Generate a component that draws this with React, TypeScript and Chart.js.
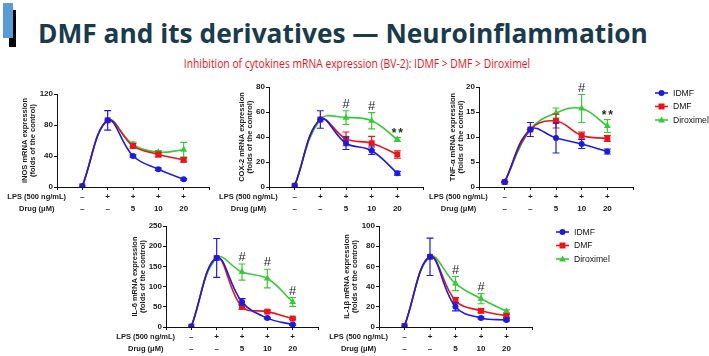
import React, { useEffect, useRef } from 'react';
import { Chart, registerables } from 'chart.js';

Chart.register(...registerables);

// ---------- shared categories / labels ----------
const categoryIndex = [0, 1, 2, 3, 4];
const lpsLabels = ['–', '+', '+', '+', '+'];
const drugLabels = ['–', '–', '5', '10', '20'];
const rowHeaders = ['LPS (500 ng/mL)', 'Drug (μM)'];
const seriesNames = ['IDMF', 'DMF', 'Diroximel'];
const seriesColors = ['#1c1ce0', '#e8161c', '#38c938'];
const seriesMarkers = ['circle', 'rect', 'triangle'];

// ---------- iNOS ----------
const inosIdmf = [1, 86, 40, 23, 10];
const inosIdmfErr = [0.5, 12.5, 1.5, 1.5, 1];
const inosDmf = [1, 86, 53, 42, 35];
const inosDmfErr = [0, 0, 3, 3, 2.5];
const inosDirox = [1, 86, 55, 45, 48];
const inosDiroxErr = [0, 0, 3, 2, 9.5];
const inosMarks: string[] = ['', '', '', '', ''];

// ---------- COX-2 ----------
const coxIdmf = [1, 54, 35, 29, 11];
const coxIdmfErr = [0.5, 7, 5, 3, 1.5];
const coxDmf = [1, 54, 38.5, 35, 26];
const coxDmfErr = [0, 0, 5.5, 5.5, 3];
const coxDirox = [1, 54, 55.5, 53, 38];
const coxDiroxErr = [0, 0, 5.5, 6.5, 1.5];
const coxMarks = ['', '', '#', '#', '**'];

// ---------- TNF-α ----------
const tnfIdmf = [1, 11.5, 9.8, 8.6, 7.1];
const tnfIdmfErr = [0.1, 1.4, 3, 0.9, 0.5];
const tnfDmf = [1, 11.5, 13.2, 10.3, 9.7];
const tnfDmfErr = [0, 0, 1.4, 0.7, 0.6];
const tnfDirox = [1, 11.5, 14.8, 15.7, 12.2];
const tnfDiroxErr = [0, 0, 1, 2.8, 1.3];
const tnfMarks = ['', '', '', '#', '**'];

// ---------- IL-6 ----------
const il6Idmf = [1, 171, 62, 22, 6];
const il6IdmfErr = [0.5, 48, 8, 2, 2];
const il6Dmf = [1, 171, 50, 38, 21];
const il6DmfErr = [0, 0, 6, 3, 2];
const il6Dirox = [1, 171, 136, 120, 62];
const il6DiroxErr = [0, 0, 20, 23, 11];
const il6Marks = ['', '', '#', '#', '#'];

// ---------- IL-1β ----------
const il1bIdmf = [1, 69.5, 20, 9, 7];
const il1bIdmfErr = [0.5, 18.5, 4, 1, 1];
const il1bDmf = [1, 69.5, 26, 16, 11];
const il1bDmfErr = [0, 0, 3, 2, 1.5];
const il1bDirox = [1, 69.5, 43, 28, 15.5];
const il1bDiroxErr = [0, 0, 7, 5, 1.5];
const il1bMarks = ['', '', '#', '#', ''];

const FONT = "'Liberation Sans', Arial, sans-serif";

type Spec = {
  box: { x: number; y: number; w: number; h: number };
  axisX: number; right: number; top: number; bottom: number; titleX: number;
  yMax: number; yStep: number; title: string[];
  values: number[][]; errors: number[][]; marks: string[];
  legend?: { dx: number; dy: number };
};

const specs: Spec[] = [
  {
    box: { x: 0, y: 70, w: 216, h: 150 }, axisX: 57, right: 209, top: 94, bottom: 187, titleX: 25,
    yMax: 120, yStep: 40, title: ['iNOS mRNA expression', '(folds of the control)'],
    values: [inosIdmf, inosDmf, inosDirox], errors: [inosIdmfErr, inosDmfErr, inosDiroxErr], marks: inosMarks,
  },
  {
    box: { x: 216, y: 70, w: 219, h: 150 }, axisX: 269, right: 423, top: 87, bottom: 187, titleX: 242,
    yMax: 80, yStep: 20, title: ['COX-2 mRNA expression', '(folds of the control)'],
    values: [coxIdmf, coxDmf, coxDirox], errors: [coxIdmfErr, coxDmfErr, coxDiroxErr], marks: coxMarks,
  },
  {
    box: { x: 428, y: 70, w: 281, h: 150 }, axisX: 479, right: 633, top: 87, bottom: 187, titleX: 453,
    yMax: 20, yStep: 5, title: ['TNF-α mRNA expression', '(folds of the control)'],
    values: [tnfIdmf, tnfDmf, tnfDirox], errors: [tnfIdmfErr, tnfDmfErr, tnfDiroxErr], marks: tnfMarks,
    legend: { dx: 22, dy: 6 },
  },
  {
    box: { x: 110, y: 212, w: 220, h: 144 }, axisX: 166, right: 318, top: 226, bottom: 327, titleX: 135,
    yMax: 250, yStep: 50, title: ['IL-6 mRNA expression', '(folds of the control)'],
    values: [il6Idmf, il6Dmf, il6Dirox], errors: [il6IdmfErr, il6DmfErr, il6DiroxErr], marks: il6Marks,
  },
  {
    box: { x: 325, y: 212, w: 300, h: 144 }, axisX: 379, right: 532, top: 226, bottom: 327, titleX: 347,
    yMax: 100, yStep: 20, title: ['IL-1β mRNA expression', '(folds of the control)'],
    values: [il1bIdmf, il1bDmf, il1bDirox], errors: [il1bIdmfErr, il1bDmfErr, il1bDiroxErr], marks: il1bMarks,
    legend: { dx: 24, dy: 6 },
  },
];

function drawMarker(ctx: CanvasRenderingContext2D, kind: string, x: number, y: number, color: string) {
  ctx.save();
  ctx.fillStyle = color;
  ctx.beginPath();
  if (kind === 'circle') {
    ctx.arc(x, y, 3, 0, Math.PI * 2);
  } else if (kind === 'rect') {
    ctx.rect(x - 3, y - 3, 6, 6);
  } else {
    ctx.moveTo(x, y - 3.6);
    ctx.lineTo(x + 3.4, y + 2.4);
    ctx.lineTo(x - 3.4, y + 2.4);
    ctx.closePath();
  }
  ctx.fill();
  ctx.restore();
}

const errorBarPlugin = {
  id: 'errorBars',
  afterDatasetDraw(chart: any, args: any) {
    const ds = chart.data.datasets[args.index];
    const errs: number[] = ds.errors || [];
    const meta = args.meta;
    const ys = chart.scales.y;
    const ctx = chart.ctx as CanvasRenderingContext2D;
    ctx.save();
    ctx.strokeStyle = ds.borderColor;
    ctx.lineWidth = 1.2;
    meta.data.forEach((pt: any, i: number) => {
      const e = errs[i] || 0;
      if (e <= 0.6 && ys.max > 50) return;
      const v = ds.data[i].y;
      const yTop = ys.getPixelForValue(v + e);
      const yBot = ys.getPixelForValue(Math.max(v - e, 0));
      const cap = 3.5;
      ctx.beginPath();
      ctx.moveTo(pt.x, yTop); ctx.lineTo(pt.x, yBot);
      ctx.moveTo(pt.x - cap, yTop); ctx.lineTo(pt.x + cap, yTop);
      ctx.moveTo(pt.x - cap, yBot); ctx.lineTo(pt.x + cap, yBot);
      ctx.stroke();
    });
    ctx.restore();
  },
};

const rowLabelPlugin = {
  id: 'rowLabels',
  afterDraw(chart: any) {
    const ctx = chart.ctx as CanvasRenderingContext2D;
    const xs = chart.scales.x;
    const base = chart.chartArea.bottom;
    const rows = [lpsLabels, drugLabels];
    ctx.save();
    ctx.fillStyle = '#1a1a1a';
    ctx.textAlign = 'center';
    ctx.textBaseline = 'middle';
    rows.forEach((row, r) => {
      const y = base + 10 + r * 12;
      ctx.font = `bold 7.5px ${FONT}`;
      ctx.fillText(rowHeaders[r], xs.getPixelForValue(-1.8), y);
      ctx.font = `bold 8px ${FONT}`;
      row.forEach((lab, i) => ctx.fillText(lab, xs.getPixelForValue(categoryIndex[i]), y));
    });
    ctx.restore();
  },
};

const markPlugin = {
  id: 'sigMarks',
  afterDraw(chart: any) {
    const marks: string[] = chart.options.plugins.sigMarks.marks;
    const ctx = chart.ctx as CanvasRenderingContext2D;
    const xs = chart.scales.x;
    const ys = chart.scales.y;
    ctx.save();
    ctx.fillStyle = '#2a2a2a';
    ctx.textAlign = 'center';
    ctx.textBaseline = 'alphabetic';
    marks.forEach((m, i) => {
      if (!m) return;
      let topVal = 0;
      chart.data.datasets.forEach((ds: any) => {
        topVal = Math.max(topVal, ds.data[i].y + (ds.errors[i] || 0));
      });
      const x = xs.getPixelForValue(categoryIndex[i]);
      const y = ys.getPixelForValue(topVal) - 3;
      if (m === '#') {
        ctx.font = `13px ${FONT}`;
        ctx.fillText(m, x, y);
      } else {
        ctx.font = `bold 12px ${FONT}`;
        (ctx as any).letterSpacing = '2px';
        ctx.fillText(m, x + 1, y + 2);
        (ctx as any).letterSpacing = '0px';
      }
    });
    ctx.restore();
  },
};

const sideLegendPlugin = {
  id: 'sideLegend',
  afterDraw(chart: any) {
    const opt = chart.options.plugins.sideLegend;
    if (!opt || !opt.show) return;
    const ctx = chart.ctx as CanvasRenderingContext2D;
    const x0 = chart.chartArea.right + opt.dx;
    const y0 = chart.chartArea.top + opt.dy;
    ctx.save();
    chart.data.datasets.forEach((ds: any, i: number) => {
      const y = y0 + i * 13.5;
      ctx.strokeStyle = ds.borderColor;
      ctx.lineWidth = 1.6;
      ctx.beginPath();
      ctx.moveTo(x0, y); ctx.lineTo(x0 + 13, y);
      ctx.stroke();
      drawMarker(ctx, seriesMarkers[i], x0 + 6.5, y, ds.borderColor);
      ctx.fillStyle = '#111';
      ctx.font = `8.6px ${FONT}`;
      ctx.textAlign = 'left';
      ctx.textBaseline = 'middle';
      ctx.fillText(ds.label, x0 + 18, y + 0.5);
    });
    ctx.restore();
  },
};

function buildConfig(s: Spec): any {
  const yWidth = s.axisX - s.box.x;
  const xHeight = 3;
  const titleLH = 7.7;
  return {
    type: 'line',
    data: {
      datasets: s.values.map((vals, k) => ({
        label: seriesNames[k],
        data: vals.map((v, i) => ({ x: categoryIndex[i], y: v })),
        errors: s.errors[k],
        borderColor: seriesColors[k],
        backgroundColor: seriesColors[k],
        pointBackgroundColor: seriesColors[k],
        pointBorderColor: seriesColors[k],
        pointStyle: seriesMarkers[k],
        pointRadius: k === 0 ? 3 : k === 1 ? 4.2 : 4,
        pointBorderWidth: 0,
        borderWidth: 1.6,
        tension: 0.4,
        fill: false,
      })),
    },
    options: {
      animation: false,
      responsive: false,
      maintainAspectRatio: false,
      devicePixelRatio: 1,
      events: [],
      layout: {
        padding: {
          left: 0,
          top: s.top - s.box.y,
          right: s.box.x + s.box.w - s.right,
          bottom: s.box.y + s.box.h - s.bottom - xHeight,
        },
      },
      scales: {
        x: {
          type: 'linear', min: -1, max: 5,
          ticks: { display: false, stepSize: 1 },
          grid: { drawOnChartArea: false, drawTicks: true, tickLength: 3, color: '#111', lineWidth: 1 },
          border: { display: true, color: '#111', width: 1 },
          afterFit: (sc: any) => { sc.height = xHeight; },
        },
        y: {
          min: 0, max: s.yMax,
          ticks: { stepSize: s.yStep, color: '#1a1a1a', padding: 1, font: { family: FONT, size: 8, weight: 'bold' } },
          grid: { drawOnChartArea: false, drawTicks: true, tickLength: 3, color: '#111', lineWidth: 1 },
          border: { display: true, color: '#111', width: 1 },
          title: {
            display: true, text: s.title, color: '#1a1a1a',
            font: { family: FONT, size: 7.5, weight: 'bold', lineHeight: titleLH / 7.5 },
            padding: { top: s.titleX - s.box.x - titleLH / 2, bottom: 0 },
          },
          afterFit: (sc: any) => { sc.width = yWidth; },
        },
      },
      plugins: {
        legend: { display: false },
        tooltip: { enabled: false },
        sigMarks: { marks: s.marks },
        sideLegend: { show: !!s.legend, dx: s.legend?.dx ?? 0, dy: s.legend?.dy ?? 0 },
      },
    },
    plugins: [errorBarPlugin, rowLabelPlugin, markPlugin, sideLegendPlugin],
  };
}

function MiniChart({ spec }: { spec: Spec }) {
  const ref = useRef<HTMLCanvasElement>(null);
  useEffect(() => {
    const chart = new Chart(ref.current as HTMLCanvasElement, buildConfig(spec));
    return () => chart.destroy();
  }, [spec]);
  return (
    <canvas
      ref={ref}
      width={spec.box.w}
      height={spec.box.h}
      style={{ position: 'absolute', left: spec.box.x, top: spec.box.y, width: spec.box.w, height: spec.box.h }}
    />
  );
}

export default function App() {
  return (
    <div style={{ position: 'fixed', left: 0, top: 0, width: 709, height: 356, background: '#fff', overflow: 'hidden' }}>
      <div style={{ position: 'absolute', left: 9, top: 10, width: 7, height: 37, background: '#000' }} />
      <div style={{ position: 'absolute', left: 3, top: 3, width: 10, height: 35, background: '#5b9bd5' }} />
      <div
        style={{
          position: 'absolute', left: 38, top: 20, whiteSpace: 'nowrap',
          fontFamily: "'Open Sans', sans-serif", fontWeight: 700, fontSize: 26.3, lineHeight: '27px', color: '#1a3b4c',
        }}
      >
        DMF and its derivatives — Neuroinflammation
      </div>
      <div
        style={{
          position: 'absolute', left: 0, top: 56, width: 714, textAlign: 'center', whiteSpace: 'nowrap',
          transform: 'scaleX(0.86)', transformOrigin: '357px 0px',
          fontFamily: "'Open Sans', sans-serif", fontSize: 12, lineHeight: '16px', color: '#e8141c',
        }}
      >
        Inhibition of cytokines mRNA expression (BV-2): IDMF &gt; DMF &gt; Diroximel
      </div>
      {specs.map((s, i) => (
        <MiniChart key={i} spec={s} />
      ))}
    </div>
  );
}
